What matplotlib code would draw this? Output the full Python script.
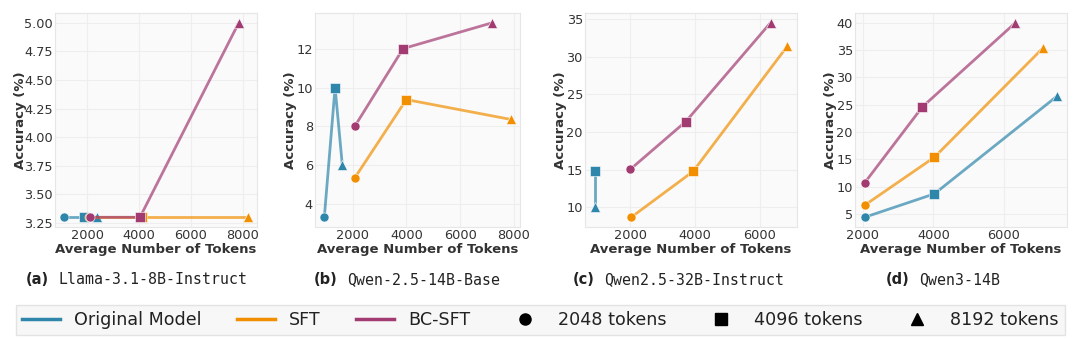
import matplotlib
matplotlib.use("Agg")
import matplotlib.pyplot as plt
from matplotlib.lines import Line2D

# ---------------- data ----------------
panel_letters = ["(a)", "(b)", "(c)", "(d)"]
panel_models = ["Llama-3.1-8B-Instruct", "Qwen-2.5-14B-Base", "Qwen2.5-32B-Instruct", "Qwen3-14B"]
series_names = ["Original Model", "SFT", "BC-SFT"]
budget_labels = ["2048 tokens", "4096 tokens", "8192 tokens"]

# (a) Llama-3.1-8B-Instruct
a_orig_x = [1100, 1850, 2380]
a_orig_y = [3.3, 3.3, 3.3]
a_sft_x = [2050, 4120, 8200]
a_sft_y = [3.3, 3.3, 3.3]
a_bc_x = [2080, 4030, 7850]
a_bc_y = [3.3, 3.3, 5.0]

# (b) Qwen-2.5-14B-Base
b_orig_x = [950, 1350, 1620]
b_orig_y = [3.33, 10.0, 6.0]
b_sft_x = [2080, 4000, 7880]
b_sft_y = [5.35, 9.38, 8.36]
b_bc_x = [2080, 3880, 7200]
b_bc_y = [8.0, 12.0, 13.33]

# (c) Qwen2.5-32B-Instruct
c_orig_x = [900, 900]
c_orig_y = [14.78, 10.0]
c_sft_x = [2030, 3945, 6860]
c_sft_y = [8.7, 14.78, 31.4]
c_bc_x = [2000, 3720, 6340]
c_bc_y = [15.05, 21.4, 34.5]

# (d) Qwen3-14B
d_orig_x = [2050, 4030, 7520]
d_orig_y = [4.38, 8.67, 26.6]
d_sft_x = [2050, 4030, 7100]
d_sft_y = [6.58, 15.37, 35.3]
d_bc_x = [2050, 3690, 6330]
d_bc_y = [10.68, 24.6, 40.0]

y_ticks = [
    [3.25, 3.50, 3.75, 4.00, 4.25, 4.50, 4.75, 5.00],
    [4, 6, 8, 10, 12],
    [10, 15, 20, 25, 30, 35],
    [5, 10, 15, 20, 25, 30, 35, 40],
]
x_ticks = [
    [2000, 4000, 6000, 8000],
    [2000, 4000, 6000, 8000],
    [2000, 4000, 6000],
    [2000, 4000, 6000],
]
# markers for the two-point original series in (c): 4096 then 8192
c_orig_markers = ["s", "^"]

# ---------------- style ----------------
colors = ["#2E86AB", "#F18F01", "#A23B72"]
markers = ["o", "s", "^"]

W, H = 1080, 350
fig = plt.figure(figsize=(W / 100, H / 100), dpi=100)

ax_px = [(55, 257), (315, 520), (585, 797), (855, 1067)]
top_px, bot_px = 13, 227
sub_x = [26, 314, 573, 886]

panels = [
    [(a_orig_x, a_orig_y, markers), (a_sft_x, a_sft_y, markers), (a_bc_x, a_bc_y, markers)],
    [(b_orig_x, b_orig_y, markers), (b_sft_x, b_sft_y, markers), (b_bc_x, b_bc_y, markers)],
    [(c_orig_x, c_orig_y, c_orig_markers), (c_sft_x, c_sft_y, markers), (c_bc_x, c_bc_y, markers)],
    [(d_orig_x, d_orig_y, markers), (d_sft_x, d_sft_y, markers), (d_bc_x, d_bc_y, markers)],
]

for i, (l, r) in enumerate(ax_px):
    ax = fig.add_axes([l / W, 1 - bot_px / H, (r - l) / W, (bot_px - top_px) / H])
    ax.set_facecolor("#fafafa")
    ax.grid(True, color="#eeeeee", lw=0.8)
    ax.set_axisbelow(True)
    for s in ax.spines.values():
        s.set_color("#e6e6e6")
        s.set_linewidth(0.8)
    for k, (xs, ys, mks) in enumerate(panels[i]):
        ax.plot(xs, ys, color=colors[k], lw=2, alpha=0.7, zorder=2 + k)
        for xv, yv, mk in zip(xs, ys, mks):
            ax.plot([xv], [yv], marker=mk, color=colors[k], ms=6.5, ls="None",
                    mec="white", mew=0.4, zorder=2.5 + k)
    ax.margins(x=0.05, y=0.05)
    ax.set_yticks(y_ticks[i])
    ax.set_xticks(x_ticks[i])
    if i == 0:
        ax.set_yticklabels([f"{v:.2f}" for v in y_ticks[i]])
    ax.tick_params(length=0, labelsize=9.3, labelcolor="#333333", pad=1.5)
    ax.set_xlabel("Average Number of Tokens", fontsize=9.5, fontweight="bold",
                  color="#333333", labelpad=0.5)
    ax.set_ylabel("Accuracy (%)", fontsize=9.5, fontweight="bold", color="#333333")
    ax.yaxis.set_label_coords(((27 + 270 * i) - l) / (r - l), 0.5)

    t1 = fig.text(sub_x[i] / W, 1 - 280 / H, panel_letters[i], fontsize=10.5,
                  fontweight="bold", ha="left", va="center", color="#222222")
    ax.annotate(panel_models[i], xy=(1, 0.5), xycoords=t1, xytext=(7, 0),
                textcoords="offset points", ha="left", va="center",
                fontsize=10.7, family="DejaVu Sans Mono", color="#222222",
                annotation_clip=False)

handles = [Line2D([0], [0], color=c, lw=2.5) for c in colors]
handles += [Line2D([0], [0], marker=m, color="black", ls="None", ms=8) for m in markers]
labels = series_names + budget_labels
leg = fig.legend(handles, labels, loc="center", bbox_to_anchor=(0.5, 1 - 320 / H),
                 ncol=6, fontsize=12.6, frameon=True, fancybox=False,
                 handlelength=2.2, handletextpad=0.8, columnspacing=2.0,
                 borderpad=0.35)
leg.get_frame().set_facecolor("#f5f5f5")
leg.get_frame().set_edgecolor("#dddddd")
for t in leg.get_texts():
    t.set_color("#222222")

fig.savefig("out.png", dpi=100)
